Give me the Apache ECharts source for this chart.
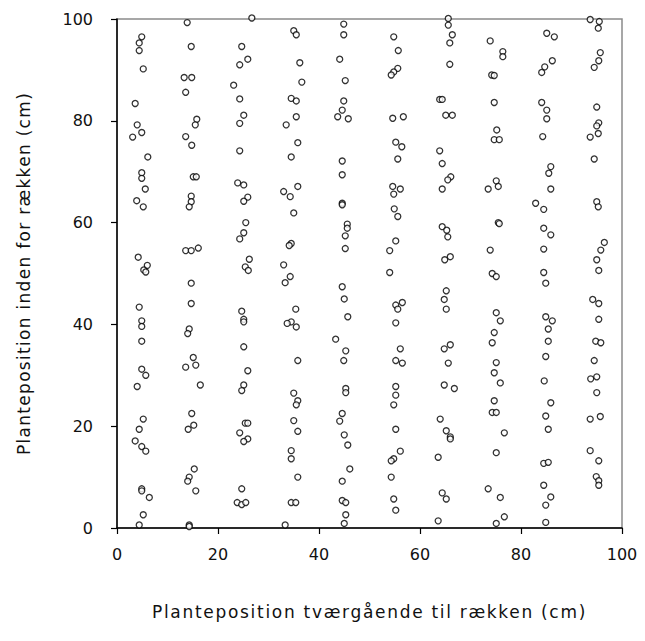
<!DOCTYPE html>
<html>
<head>
<meta charset="utf-8">
<script src="https://cdn.jsdelivr.net/npm/echarts@6/dist/echarts.min.js"></script>
<style>
  html, body { margin: 0; padding: 0; background: #fff; }
  #chart { width: 645px; height: 641px; }
</style>
</head>
<body>
<div id="chart"></div>
<script>
// Plant positions [across the row (cm), along the row (cm)], one array per row of plants
const row1 = [[4.9,96.5],[4.4,95.3],[4.4,93.8],[5.2,90.2],[3.6,83.4],[4.0,79.2],[3.1,76.8],[4.9,77.7],[6.1,72.9],[4.9,69.8],[4.9,68.7],[5.6,66.6],[3.9,64.3],[5.2,63.1],[4.2,53.2],[6.0,51.6],[5.3,50.7],[5.7,50.3],[4.4,43.4],[4.9,40.7],[4.9,39.6],[4.9,36.7],[4.9,31.2],[5.7,30.0],[4.0,27.8],[5.2,21.4],[4.4,19.4],[3.6,17.1],[4.9,16.0],[5.7,15.1],[4.9,7.7],[4.9,7.3],[6.4,6.0],[5.2,2.6],[4.4,0.6]];
const row2 = [[13.9,99.3],[14.7,94.6],[13.3,88.5],[14.8,88.5],[13.6,85.6],[15.8,80.3],[15.5,79.2],[13.6,76.9],[14.8,75.2],[15.1,69.0],[15.7,69.0],[14.7,65.2],[14.7,64.1],[14.3,63.1],[13.6,54.5],[14.7,54.5],[16.1,55.0],[14.7,48.1],[14.7,44.1],[14.3,39.1],[14.0,38.2],[15.1,33.5],[13.6,31.6],[15.6,32.0],[16.5,28.1],[14.8,22.5],[15.2,20.2],[14.1,19.4],[15.3,11.6],[14.3,10.0],[14.0,9.2],[15.6,7.3],[14.3,0.6],[14.3,0.3]];
const row3 = [[26.7,100.2],[24.7,94.6],[25.9,92.1],[24.3,91.0],[23.1,87.0],[24.3,84.3],[25.1,81.1],[24.3,79.5],[24.3,74.1],[23.9,67.8],[25.1,67.4],[25.9,65.0],[25.1,64.2],[25.5,60.0],[25.1,58.0],[24.3,56.8],[26.2,52.8],[25.4,51.3],[26.0,50.6],[24.7,42.6],[25.1,41.0],[25.1,40.5],[25.1,35.6],[25.9,30.9],[25.1,28.1],[24.7,27.0],[25.4,20.6],[25.9,20.6],[24.3,18.7],[25.9,17.5],[25.1,17.0],[24.7,7.7],[23.8,5.0],[24.7,4.6],[25.5,5.0]];
const row4 = [[35.0,97.7],[35.5,96.9],[36.2,91.4],[36.6,87.6],[34.5,84.4],[35.5,83.9],[35.5,80.8],[33.5,79.2],[35.8,75.7],[34.5,72.9],[35.8,67.1],[34.3,65.1],[33.0,66.1],[35.0,61.9],[34.5,55.9],[34.1,55.5],[33.0,51.7],[34.3,49.4],[33.3,48.2],[35.4,43.0],[34.5,40.5],[33.7,40.2],[35.5,39.5],[35.8,32.9],[35.0,26.5],[35.8,25.0],[35.5,24.2],[35.0,21.1],[35.8,19.0],[34.5,15.2],[34.5,13.6],[35.8,10.0],[34.5,5.0],[35.4,5.0],[33.3,0.6]];
const row5 = [[44.9,99.0],[44.9,96.9],[44.1,92.1],[45.2,87.9],[44.9,83.9],[44.6,82.1],[43.7,80.8],[45.8,80.4],[44.6,72.1],[44.6,69.4],[44.6,63.8],[44.6,63.5],[45.6,59.7],[45.6,58.9],[45.2,57.4],[45.2,54.9],[44.6,47.4],[45.0,45.0],[45.7,41.5],[43.3,37.1],[45.3,34.8],[44.9,32.9],[45.3,27.4],[45.3,26.6],[44.6,22.5],[44.1,21.0],[45.0,18.3],[45.7,16.3],[46.1,11.6],[44.6,9.2],[44.6,5.4],[45.3,5.0],[45.3,2.6],[45.0,0.9]];
const row6 = [[54.8,96.5],[55.7,93.8],[55.6,90.3],[54.8,89.6],[54.3,89.0],[54.6,80.5],[56.7,80.8],[55.2,75.8],[56.4,74.9],[55.6,72.5],[54.6,67.1],[56.1,66.6],[54.8,65.6],[54.9,62.7],[55.6,61.2],[55.2,56.4],[54.0,54.5],[54.0,50.2],[55.2,43.8],[56.5,44.3],[55.6,43.0],[55.2,40.3],[56.1,35.2],[55.2,32.9],[56.5,32.4],[55.2,27.8],[55.2,26.1],[54.8,24.2],[55.2,19.4],[56.1,15.1],[54.8,13.6],[54.3,13.2],[54.3,10.0],[54.8,5.7],[55.2,3.5]];
const row7 = [[65.6,100.1],[65.6,98.8],[66.4,96.9],[65.9,95.3],[65.9,91.1],[63.9,84.2],[64.4,84.2],[65.1,81.1],[66.4,81.1],[63.9,74.1],[64.4,71.6],[66.1,69.0],[65.5,68.4],[64.4,66.6],[64.4,59.2],[65.3,58.5],[65.5,57.2],[64.9,52.7],[66.0,53.3],[65.2,46.6],[64.8,44.9],[65.2,43.0],[64.8,35.2],[66.0,36.0],[65.6,32.4],[64.8,28.1],[66.8,27.4],[64.0,21.4],[65.2,19.1],[66.0,17.9],[66.0,17.5],[63.6,13.9],[64.4,6.9],[65.2,5.7],[63.6,1.4]];
const row8 = [[73.9,95.7],[76.4,93.6],[76.4,92.6],[74.2,89.0],[74.7,88.9],[74.7,83.6],[75.2,78.2],[74.7,76.3],[75.7,76.3],[75.1,68.2],[75.5,67.1],[73.5,66.6],[75.5,60.0],[75.7,59.8],[73.9,54.6],[74.3,50.0],[75.1,49.4],[75.1,42.3],[75.9,40.7],[74.7,38.4],[74.3,36.4],[75.1,32.5],[74.7,30.5],[75.9,28.5],[74.7,25.0],[74.3,22.7],[75.1,22.7],[76.7,18.7],[75.1,14.8],[73.5,7.7],[75.9,6.0],[76.7,2.2],[75.1,0.9]];
const row9 = [[85.1,97.2],[86.6,96.5],[86.2,91.8],[84.7,90.6],[84.1,89.5],[84.1,83.6],[85.1,82.1],[85.1,80.4],[84.3,76.9],[85.9,71.0],[85.5,69.7],[85.9,66.6],[82.9,63.8],[84.5,62.6],[84.5,58.9],[85.9,57.6],[84.5,54.8],[84.5,50.2],[84.9,48.1],[84.9,41.5],[86.2,40.7],[85.4,39.1],[85.4,36.7],[84.9,33.7],[84.6,28.9],[85.9,24.6],[84.9,22.0],[85.4,19.4],[84.5,12.7],[85.4,12.9],[84.5,8.4],[85.9,6.1],[84.9,4.5],[84.9,1.1]];
const row10 = [[93.7,99.9],[95.5,99.5],[95.3,98.2],[95.7,93.4],[95.4,91.8],[94.5,90.5],[95.0,82.7],[95.4,79.6],[95.0,79.0],[95.3,77.5],[93.7,76.8],[94.5,72.5],[95.0,64.1],[95.3,63.1],[96.5,56.1],[95.8,54.6],[95.0,52.7],[95.4,50.6],[94.2,44.9],[95.4,44.1],[95.4,41.0],[94.8,36.7],[95.8,36.4],[94.5,32.9],[93.8,29.3],[95.0,29.7],[95.0,26.6],[93.7,21.4],[95.7,21.9],[93.7,15.2],[95.4,13.2],[94.9,10.1],[95.4,9.3],[95.4,8.4]];

const rows = [row1, row2, row3, row4, row5, row6, row7, row8, row9, row10];
const xTitle = 'Planteposition tværgående til rækken (cm)';
const yTitle = 'Planteposition inden for rækken (cm)';

const FONT = 'DejaVu Sans';
const chart = echarts.init(document.getElementById('chart'), null, { renderer: 'svg' });

const axisCommon = {
  type: 'value', min: 0, max: 100, interval: 20,
  axisLine: { show: true, onZero: false, lineStyle: { color: '#000', width: 1.5 } },
  axisTick: { show: true, inside: false, length: 6, lineStyle: { color: '#000', width: 1.2 } },
  splitLine: { show: false },
  nameLocation: 'middle',
  nameTextStyle: { fontFamily: FONT, fontSize: 17, color: '#111' }
};

chart.setOption({
  animation: false,
  backgroundColor: '#fff',
  grid: { left: 117, right: 23, top: 19, bottom: 113, show: true, borderColor: '#8a8a8a', borderWidth: 1.5, backgroundColor: 'transparent' },
  xAxis: Object.assign({}, axisCommon, {
    name: xTitle, nameGap: 75,
    axisLabel: { fontFamily: FONT, fontSize: 16, color: '#111', margin: 18 }
  }),
  yAxis: Object.assign({}, axisCommon, {
    name: yTitle, nameGap: 85, nameRotate: 90,
    axisLabel: { fontFamily: FONT, fontSize: 16, color: '#111', margin: 24 }
  }),
  series: rows.map((r, i) => ({
    type: 'scatter',
    name: 'row' + (i + 1),
    data: r,
    symbol: 'circle',
    symbolSize: 6,
    clip: false,
    itemStyle: { color: '#fff', borderColor: '#000', borderWidth: 1.3 }
  }))
});

// The axis titles are set with slightly wider tracking than the tick labels
function spaceTitles() {
  document.querySelectorAll('#chart svg text').forEach(t => {
    if (t.textContent === xTitle) t.style.letterSpacing = '1.7px';
    else if (t.textContent === yTitle) t.style.letterSpacing = '1.3px';
  });
}
chart.on('finished', spaceTitles);
spaceTitles();
setTimeout(spaceTitles, 0);
</script>
</body>
</html>
